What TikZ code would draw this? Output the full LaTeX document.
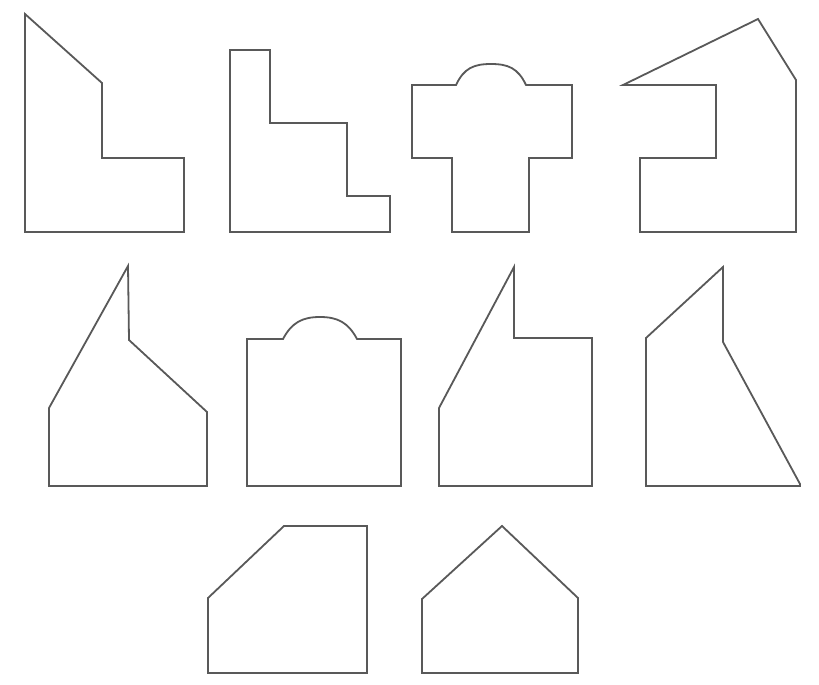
\documentclass[tikz,border=0pt]{standalone}
\begin{document}
\begin{tikzpicture}[x=1pt,y=-1pt,
  outline/.style={draw=black!65,line width=1.8pt,line join=miter}]
\useasboundingbox[fill=white] (0,0) rectangle (819,685);
% row 1
\draw[outline] (25,14) -- (102,83) -- (102,158) -- (184,158) -- (184,232) -- (25,232) -- cycle;
\draw[outline] (230,50) -- (270,50) -- (270,123) -- (347,123) -- (347,196) -- (390,196) -- (390,232) -- (230,232) -- cycle;
\draw[outline] (412,85) -- (456,85) .. controls (464,68) and (474,64) .. (491,64) .. controls (508,64) and (518,68) .. (526,85) -- (572,85) -- (572,158) -- (529,158) -- (529,232) -- (452,232) -- (452,158) -- (412,158) -- cycle;
\draw[outline] (623,85) -- (758,19) -- (796,80) -- (796,232) -- (640,232) -- (640,158) -- (716,158) -- (716,85) -- cycle;
% row 2
\draw[outline] (49,408) -- (128,266) -- (129,340) -- (207,412) -- (207,486) -- (49,486) -- cycle;
\draw[outline] (247,339) -- (283,339) .. controls (292,322) and (303,317) .. (320,317) .. controls (337,317) and (348,322) .. (357,339) -- (401,339) -- (401,486) -- (247,486) -- cycle;
\draw[outline] (439,408) -- (514,267) -- (514,338) -- (592,338) -- (592,486) -- (439,486) -- cycle;
\draw[outline] (646,338) -- (723,267) -- (723,342) -- (800,484) -- (800,486) -- (646,486) -- cycle;
% row 3
\draw[outline] (208,598) -- (284,526) -- (367,526) -- (367,673) -- (208,673) -- cycle;
\draw[outline] (422,599) -- (502,526) -- (578,598) -- (578,673) -- (422,673) -- cycle;
\end{tikzpicture}
\end{document}
